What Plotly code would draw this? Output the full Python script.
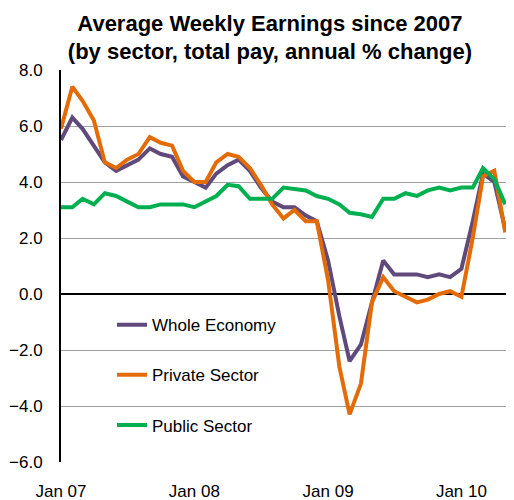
import pandas as pd
import plotly.graph_objects as go

# monthly, Jan 2007 - May 2010
months = pd.date_range("2007-01-01", periods=41, freq="MS")

whole_economy = [5.5, 6.3, 5.9, 5.3, 4.7, 4.4, 4.6, 4.8, 5.2, 5.0,
                 4.9, 4.2, 4.0, 3.8, 4.3, 4.6, 4.8, 4.4, 3.8, 3.3,
                 3.1, 3.1, 2.8, 2.6, 1.2, -0.8, -2.4, -1.8, -0.3, 1.2,
                 0.7, 0.7, 0.7, 0.6, 0.7, 0.6, 0.9, 2.6, 4.3, 4.0,
                 2.3]
private_sector = [5.9, 7.4, 6.9, 6.2, 4.7, 4.5, 4.8, 5.0, 5.6, 5.4,
                  5.3, 4.4, 4.0, 4.0, 4.7, 5.0, 4.9, 4.5, 3.9, 3.2,
                  2.7, 3.0, 2.6, 2.6, 0.5, -2.6, -4.3, -3.2, -0.3, 0.6,
                  0.1, -0.1, -0.3, -0.2, 0.0, 0.1, -0.1, 2.0, 4.2, 4.4,
                  2.2]
public_sector = [3.1, 3.1, 3.4, 3.2, 3.6, 3.5, 3.3, 3.1, 3.1, 3.2,
                 3.2, 3.2, 3.1, 3.3, 3.5, 3.9, 3.85, 3.4, 3.4, 3.4,
                 3.8, 3.75, 3.7, 3.5, 3.4, 3.2, 2.9, 2.85, 2.75, 3.4,
                 3.4, 3.6, 3.5, 3.7, 3.8, 3.7, 3.8, 3.8, 4.5, 4.1,
                 3.2]

year_ticks = ["2007-01-01", "2008-01-01", "2009-01-01", "2010-01-01"]
tick_labels = ["Jan 07", "Jan 08", "Jan 09", "Jan 10"]
y_min, y_max = -6, 8
x_range = ["2007-01-01", "2010-05-03"]

series = [
    ("Whole Economy", whole_economy, "#604A7B"),
    ("Private Sector", private_sector, "#E36C09"),
    ("Public Sector", public_sector, "#00B050"),
]

FONT = "Liberation Sans, Arial, sans-serif"

fig = go.Figure()
for name, values, color in series:
    fig.add_trace(
        go.Scatter(
            x=months,
            y=values,
            name=name,
            legendgroup=name,
            mode="lines",
            line=dict(color=color, width=4),
        )
    )

# the page body has an 8px margin and clips at its content width,
# so the figure is sized to what is actually visible
fig.update_layout(
    width=498,
    height=492,
    margin=dict(l=53, r=0, t=62, b=38),
    paper_bgcolor="#FFFFFF",
    plot_bgcolor="#FFFFFF",
    font=dict(family=FONT, size=17, color="#000000"),
    title=dict(
        text="<b>Average Weekly Earnings since 2007<br>(by sector, total pay, annual % change)</b>",
        font=dict(family=FONT, size=22, color="#000000"),
        xref="container",
        x=0.526,
        xanchor="center",
        yref="container",
        y=0.954,
        yanchor="top",
    ),
    showlegend=True,
    legend=dict(
        x=0.1146,
        y=0.395,
        xanchor="left",
        yanchor="top",
        bgcolor="rgba(0,0,0,0)",
        font=dict(family=FONT, size=17),
        tracegroupgap=25,
    ),
    xaxis=dict(
        type="date",
        range=x_range,
        tickvals=year_ticks,
        ticktext=tick_labels,
        showgrid=False,
        showline=False,
        zeroline=False,
        ticks="",
        ticklabelstandoff=17,
    ),
    # tick marks hanging under the zero line
    xaxis2=dict(
        type="date",
        range=x_range,
        overlaying="x",
        anchor="free",
        position=(0 - y_min) / (y_max - y_min),
        tickvals=year_ticks,
        ticks="outside",
        ticklen=6,
        tickwidth=2,
        tickcolor="#000000",
        showticklabels=False,
        showgrid=False,
        showline=False,
        zeroline=False,
    ),
    yaxis=dict(
        range=[y_min, y_max],
        dtick=2,
        tick0=0,
        tickformat=".1f",
        showgrid=True,
        gridcolor="#A0A0A0",
        gridwidth=1,
        showline=True,
        linecolor="#000000",
        linewidth=2,
        zeroline=True,
        zerolinecolor="#000000",
        zerolinewidth=2,
        ticks="",
        ticklabelstandoff=13,
    ),
)

fig.write_html("out.html")
